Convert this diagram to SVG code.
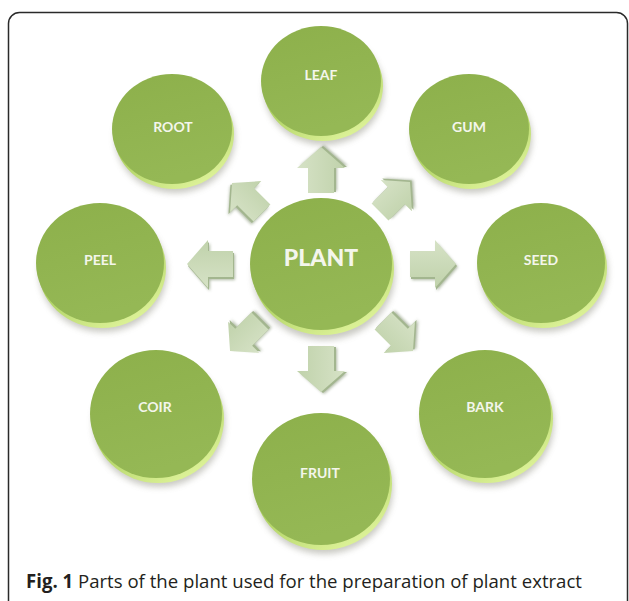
<svg xmlns="http://www.w3.org/2000/svg" width="629" height="601" viewBox="0 0 629 601">
<defs>
  <linearGradient id="top" x1="0" y1="0" x2="0.3" y2="1">
    <stop offset="0" stop-color="#8db04b"/>
    <stop offset="1" stop-color="#95b855"/>
  </linearGradient>
  <linearGradient id="rim" x1="0" y1="0" x2="0.6" y2="1">
    <stop offset="0" stop-color="#7f9f3e"/>
    <stop offset="0.55" stop-color="#acd05f"/>
    <stop offset="1" stop-color="#daf095"/>
  </linearGradient>
  <linearGradient id="arr" x1="0" y1="0" x2="0" y2="1">
    <stop offset="0" stop-color="#d6e2c6"/>
    <stop offset="1" stop-color="#c0d2ab"/>
  </linearGradient>
  <filter id="blur" x="-20%" y="-20%" width="140%" height="140%">
    <feGaussianBlur stdDeviation="3"/>
  </filter>
  <filter id="ablur" x="-30%" y="-30%" width="160%" height="160%">
    <feGaussianBlur stdDeviation="1.5"/>
  </filter>
  <path id="ar" d="M-23,-13 L2,-13 L2,-24 L23,0 L2,24 L2,13 L-23,13 Z"/>
</defs>
<style>
  .shadow { fill: #7a7a6a; opacity: 0.4; filter: url(#blur); }
  .rim { fill: url(#rim); }
  .face { fill: url(#top); }
  .lbl { font-family: "Lato", "Open Sans", "Liberation Sans", sans-serif; font-weight: bold; font-size: 14px; fill: #f4f6ec; text-anchor: middle; }
  .big { font-size: 23px; font-weight: 900; }
  .ashadow { fill: #8e9c7e; opacity: 0.7; filter: url(#ablur); }
  .aedge { fill: #a3b68f; }
  .aface { fill: url(#arr); }
  .cap { font-family: "Open Sans", "Liberation Sans", sans-serif; font-size: 19px; fill: #231f20; }
</style>
<rect x="0" y="0" width="629" height="601" fill="#ffffff"/>
<rect x="8.5" y="12.5" width="619" height="620" rx="11" ry="11" fill="none" stroke="#2a2a2a" stroke-width="1.5"/>

<g id="connectors">
  <g transform="translate(321,170) rotate(-90)"><use href="#ar" class="ashadow" x="2" y="3"/><use href="#ar" class="aedge" x="1" y="2"/><use href="#ar" class="aface"/></g>
  <g transform="translate(321,369) rotate(90)"><use href="#ar" class="ashadow" x="2" y="-3"/><use href="#ar" class="aedge" x="1" y="-2"/><use href="#ar" class="aface"/></g>
  <g transform="translate(210,264) rotate(180)"><use href="#ar" class="ashadow" x="-2" y="-3"/><use href="#ar" class="aedge" x="-1" y="-2"/><use href="#ar" class="aface"/></g>
  <g transform="translate(433,264)"><use href="#ar" class="ashadow" x="2" y="3"/><use href="#ar" class="aedge" x="1" y="2"/><use href="#ar" class="aface"/></g>
  <g transform="translate(247,198) rotate(-135) scale(0.92)"><use href="#ar" class="ashadow" x="-1" y="-4"/><use href="#ar" class="aedge" x="0" y="-2.5"/><use href="#ar" class="aface"/></g>
  <g transform="translate(395,197) rotate(-45) scale(0.92)"><use href="#ar" class="ashadow" x="4" y="1"/><use href="#ar" class="aedge" x="2.5" y="0"/><use href="#ar" class="aface"/></g>
  <g transform="translate(245,336) rotate(135) scale(0.92)"><use href="#ar" class="ashadow" x="-4" y="-1"/><use href="#ar" class="aedge" x="-2.5" y="0"/><use href="#ar" class="aface"/></g>
  <g transform="translate(398,336) rotate(45) scale(0.92)"><use href="#ar" class="ashadow" x="1" y="-4"/><use href="#ar" class="aedge" x="0" y="-2.5"/><use href="#ar" class="aface"/></g>
</g>

<g id="leaf">
  <ellipse class="shadow" cx="324" cy="90" rx="60" ry="55"/>
  <ellipse class="rim" cx="323" cy="86" rx="60" ry="55"/>
  <ellipse class="face" cx="321" cy="81" rx="60" ry="55"/>
  <text class="lbl" x="321" y="80">LEAF</text>
</g>
<g id="root">
  <ellipse class="shadow" cx="175" cy="138" rx="60" ry="55"/>
  <ellipse class="rim" cx="174" cy="134" rx="60" ry="55"/>
  <ellipse class="face" cx="172" cy="129" rx="60" ry="55"/>
  <text class="lbl" x="173" y="132">ROOT</text>
</g>
<g id="gum">
  <ellipse class="shadow" cx="472" cy="138" rx="60" ry="55"/>
  <ellipse class="rim" cx="471" cy="134" rx="60" ry="55"/>
  <ellipse class="face" cx="469" cy="129" rx="60" ry="55"/>
  <text class="lbl" x="469" y="132">GUM</text>
</g>
<g id="peel">
  <ellipse class="shadow" cx="103" cy="272" rx="64" ry="60"/>
  <ellipse class="rim" cx="102" cy="268" rx="64" ry="60"/>
  <ellipse class="face" cx="100" cy="263" rx="64" ry="60"/>
  <text class="lbl" x="100" y="265">PEEL</text>
</g>
<g id="plant">
  <ellipse class="shadow" cx="324" cy="274" rx="71" ry="66"/>
  <ellipse class="rim" cx="323" cy="269" rx="71" ry="66"/>
  <ellipse class="face" cx="321" cy="264" rx="71" ry="66"/>
  <text class="lbl big" x="321" y="266">PLANT</text>
</g>
<g id="seed">
  <ellipse class="shadow" cx="544" cy="272" rx="64" ry="60"/>
  <ellipse class="rim" cx="543" cy="268" rx="64" ry="60"/>
  <ellipse class="face" cx="541" cy="263" rx="64" ry="60"/>
  <text class="lbl" x="541" y="265">SEED</text>
</g>
<g id="coir">
  <ellipse class="shadow" cx="159" cy="423" rx="66" ry="64"/>
  <ellipse class="rim" cx="158" cy="419" rx="66" ry="64"/>
  <ellipse class="face" cx="156" cy="414" rx="66" ry="64"/>
  <text class="lbl" x="155" y="412">COIR</text>
</g>
<g id="bark">
  <ellipse class="shadow" cx="488" cy="423" rx="66" ry="64"/>
  <ellipse class="rim" cx="487" cy="419" rx="66" ry="64"/>
  <ellipse class="face" cx="485" cy="414" rx="66" ry="64"/>
  <text class="lbl" x="485" y="412">BARK</text>
</g>
<g id="fruit">
  <ellipse class="shadow" cx="324" cy="488" rx="69" ry="66"/>
  <ellipse class="rim" cx="323" cy="484" rx="69" ry="66"/>
  <ellipse class="face" cx="321" cy="479" rx="69" ry="66"/>
  <text class="lbl" x="320" y="478">FRUIT</text>
</g>

<text class="cap" x="26" y="588" textLength="556" lengthAdjust="spacingAndGlyphs"><tspan font-weight="bold">Fig. 1</tspan> Parts of the plant used for the preparation of plant extract</text>
</svg>
